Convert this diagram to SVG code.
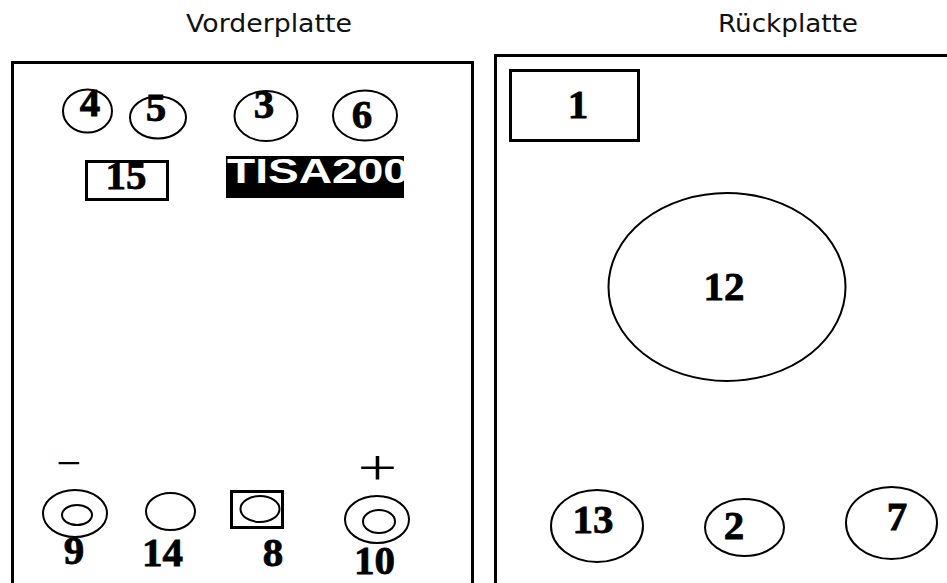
<svg xmlns="http://www.w3.org/2000/svg" width="947" height="583" viewBox="0 0 947 583">
<style>
.title{font-family:"DejaVu Sans","Liberation Sans",sans-serif;font-size:25px;fill:#111}
.num{font-family:"Liberation Serif","Times New Roman",serif;font-weight:bold;font-size:41px;fill:#000;stroke:#000;stroke-width:0.8;text-anchor:middle}
.sym{font-family:"Liberation Serif","Times New Roman",serif;fill:#000;text-anchor:middle}
.panel{fill:none;stroke:#000;stroke-width:3}
.el{fill:none;stroke:#000;stroke-width:2}
.box{fill:none;stroke:#000;stroke-width:3}
</style>
<defs>
<clipPath id="tisaClip"><rect x="226" y="156" width="178" height="42"/></clipPath>
</defs>
<rect width="947" height="583" fill="#fff"/>

<text class="title" x="186" y="32" textLength="166" lengthAdjust="spacingAndGlyphs">Vorderplatte</text>
<text class="title" x="718" y="32" textLength="140" lengthAdjust="spacingAndGlyphs">Rückplatte</text>

<g id="front-panel"><path class="panel" d="M12.5,583 V62.5 H472.5 V583"/></g>
<g id="back-panel"><path class="panel" d="M495.5,583 V55.5 H947"/></g>

<g id="n4"><ellipse class="el" cx="87.5" cy="111" rx="24.5" ry="21.5"/><text class="num" x="90" y="116">4</text></g>
<g id="n5"><ellipse class="el" cx="158" cy="117.5" rx="28" ry="21"/><text class="num" x="156" y="121">5</text></g>
<g id="n3"><ellipse class="el" cx="266" cy="116" rx="31.5" ry="25"/><text class="num" x="264" y="118" fill="#333" stroke="#333">3</text></g>
<g id="n6"><ellipse class="el" cx="365" cy="115.5" rx="32" ry="25"/><text class="num" x="362" y="128">6</text></g>

<g id="n15"><rect class="box" x="86.5" y="161.5" width="81" height="38"/><text class="num" x="126" y="189">15</text></g>

<g id="tisa200">
<rect x="226" y="156" width="178" height="42" fill="#000"/>
<g clip-path="url(#tisaClip)"><text x="227" y="183" font-family="Liberation Sans, Arial, sans-serif" font-weight="bold" font-size="35" fill="#fff" textLength="182" lengthAdjust="spacingAndGlyphs">TISA200</text></g>
</g>

<g id="minus"><text class="sym" x="69" y="478" font-size="44">−</text></g>
<g id="plus"><text class="sym" transform="translate(377.5,485) scale(1.4,1)" font-size="50">+</text></g>

<g id="n9"><ellipse class="el" cx="75" cy="513.5" rx="32" ry="23.5"/><ellipse class="el" cx="77" cy="515" rx="15" ry="10"/><text class="num" x="74" y="564">9</text></g>
<g id="n14"><ellipse class="el" cx="170.5" cy="511.5" rx="24.5" ry="18.5"/><text class="num" x="162.5" y="566">14</text></g>
<g id="n8"><rect class="box" x="231.5" y="491.5" width="51" height="36"/><ellipse class="el" cx="260" cy="509" rx="19.5" ry="13"/><text class="num" x="273" y="566">8</text></g>
<g id="n10"><ellipse class="el" cx="377" cy="519.5" rx="32" ry="23.5"/><ellipse class="el" cx="379" cy="521.5" rx="16" ry="11.5"/><text class="num" x="374.5" y="574">10</text></g>

<g id="n1"><rect class="box" x="510.5" y="70.5" width="128" height="70"/><text class="num" x="578" y="118" font-size="45">1</text></g>
<g id="n12"><ellipse class="el" cx="727" cy="287" rx="118.5" ry="94"/><text class="num" x="724" y="300">12</text></g>
<g id="n13"><ellipse class="el" cx="597" cy="526" rx="46" ry="36"/><text class="num" x="593" y="533">13</text></g>
<g id="n2"><ellipse class="el" cx="744.5" cy="527.5" rx="39.5" ry="28.5"/><text class="num" x="734" y="539">2</text></g>
<g id="n7"><ellipse class="el" cx="891.5" cy="523" rx="45.5" ry="36"/><text class="num" x="897" y="530">7</text></g>

<g id="connectors"/>
</svg>
